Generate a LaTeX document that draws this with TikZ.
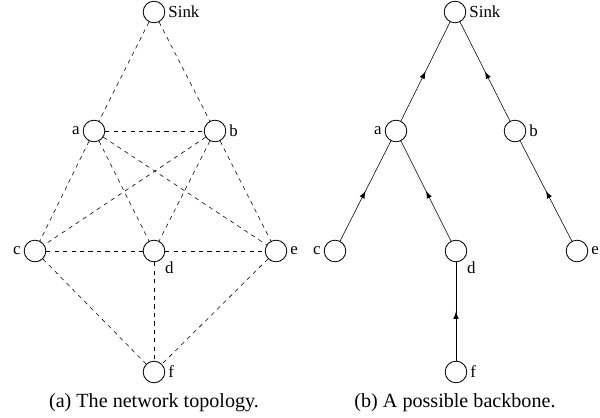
\documentclass[tikz,border=0pt]{standalone}
\usepackage{fontspec}
\setmainfont{Liberation Serif}
\usetikzlibrary{arrows, decorations.markings, positioning}

\begin{document}
\begin{tikzpicture}[x=0.025cm,y=-0.025cm,semithick,
                    every label/.style={font=\rmfamily\fontsize{12}{14}\selectfont,inner sep=2pt}]
  \tikzstyle{mote}=[circle,draw,minimum size=0.54cm,inner sep=0pt,label distance=2.5pt]
  \tikzstyle{link}=[dashed,thin]
  \tikzstyle{uplink}=[thin,postaction={decorate},decoration={markings,mark=at position 0.5 with {\arrow[scale=1.3]{latex}}}]
  \tikzstyle{caption}=[font=\rmfamily\fontsize{14.3}{17}\selectfont]
  \useasboundingbox (0,0) rectangle (600,418);

  % (a) topology
  \node[mote,label=right:Sink] (sinkA) at (154,12)  {};
  \node[mote,label=left:a]     (aA)    at (94,131)  {};
  \node[mote,label=right:b]    (bA)    at (215,131) {};
  \node[mote,label=left:c]     (cA)    at (35,251)  {};
  \node[mote,label={[label distance=0pt]below right:d}] (dA) at (154,251) {};
  \node[mote,label=right:e]    (eA)    at (276,251) {};
  \node[mote,label=right:f]    (fA)    at (154,372) {};

  \path[link] (sinkA) edge (aA)
                      edge (bA)
              (aA)    edge (bA)
                      edge (cA)
                      edge (dA)
                      edge (eA)
              (bA)    edge (cA)
                      edge (dA)
                      edge (eA)
              (cA)    edge (dA)
                      edge (fA)
              (dA)    edge (eA)
                      edge (fA)
              (eA)    edge (fA);

  % (b) backbone
  \node[mote,label=right:Sink] (sinkB) at (455,12)  {};
  \node[mote,label=left:a]     (aB)    at (396,131) {};
  \node[mote,label=right:b]    (bB)    at (515,131) {};
  \node[mote,label=left:c]     (cB)    at (335,251) {};
  \node[mote,label={[label distance=0pt]below right:d}] (dB) at (456,251) {};
  \node[mote,label=right:e]    (eB)    at (577,251) {};
  \node[mote,label=right:f]    (fB)    at (456,372) {};

  \draw[uplink] (aB) -- (sinkB);
  \draw[uplink] (bB) -- (sinkB);
  \draw[uplink] (cB) -- (aB);
  \draw[uplink] (dB) -- (aB);
  \draw[uplink] (eB) -- (bB);
  \draw[uplink] (fB) -- (dB);

  \node[caption] (capA) at (154,403) {(a) The network topology.};
  \node[caption] (capB) at (455,403) {(b) A possible backbone.};
\end{tikzpicture}
\end{document}
